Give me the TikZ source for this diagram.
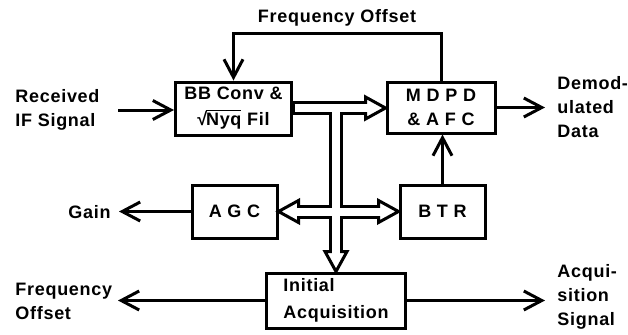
\documentclass[tikz,border=0pt]{standalone}
\usepackage{fontspec}
\setmainfont{Liberation Sans}[LetterSpace=4]
\usepackage{tikz}
\usetikzlibrary{positioning,arrows.meta}

\tikzset{
  txt/.style={font=\bfseries\fontsize{9}{12}\selectfont},
  blk/.style={draw, txt, line width=1.5pt, inner sep=0pt, align=center},
  sig/.style={line width=1.5pt, -{Straight Barb[length=9pt,width=9.5pt,line width=1.5pt]}},
  lbl/.style={txt, inner sep=0pt, align=left, anchor=west},
  busout/.style={line width=7pt},
  busin/.style={line width=4pt, white},
  bushead/.style={draw, fill=white, line width=1.5pt, line join=miter}
}

\begin{document}
\begin{tikzpicture}[x=0.5pt, y=-0.5pt]
				\useasboundingbox (0,0) rectangle (628,334);
				\node[blk, minimum width=58pt, minimum height=26.5pt] (bb) at (233.5,108.5) {BB Conv \&\\[1pt]\char"221A\kern-0.6pt$\overline{\mbox{Nyq}}$ Fil};
				\node[blk, minimum width=54pt, minimum height=25.5pt] (mdpd) at (441,107.5) {M D P D\\\& A F C};
				\node[blk, minimum width=42.5pt, minimum height=26.5pt] (agc) at (234.5,211.5) {A G C};
				\node[blk, minimum width=42.5pt, minimum height=26.5pt] (btr) at (442.5,211.5) {B T R};
				\node[blk, minimum width=69.5pt, minimum height=27.5pt, align=left] (ia) at (336,300.5) {Initial\\[1.5pt]Acquisition};
				\node[lbl] (recv) at (15,110) {Received\\IF Signal};
				\node[lbl] (gain) at (68,212) {Gain};
				\node[lbl] (fo) at (15,301) {Frequency\\Offset};
				\node[lbl] (demod) at (557,107) {Demod-\\ulated\\Data};
				\node[lbl] (acq) at (557,297) {Acqui-\\sition\\Signal};
				\node[txt, inner sep=0pt] (fbl) at (337,18) {Frequency Offset};
				\coordinate (fb) at (337,33);
				\coordinate (rin) at (118,110);
				\coordinate (gout) at (119,211.5);
				\coordinate (foout) at (118,300.5);
				\coordinate (dout) at (545,107.5);
				\coordinate (aout) at (545,300.5);
				\coordinate (j1) at (336,108);
				\coordinate (j2) at (336,211.5);
				\draw[sig] (rin) -- (bb.west |- rin);
				\draw[sig] (mdpd.north) |- (fb) -| (bb.north);
				\draw[sig] (mdpd.east) -- (dout);
				\draw[sig] (btr.north) -- (btr.north |- mdpd.south);
				\draw[sig] (agc.west) -- (gout);
				\draw[sig] (ia.west) -- (foout);
				\draw[sig] (ia.east) -- (aout);
				\draw[busout] (bb.east |- j1) -- ([xshift=-10pt]mdpd.west |- j1);
				\draw[busout] (j1) -- ([yshift=10pt]ia.north);
				\draw[busout] ([xshift=10pt]agc.east |- j2) -- ([xshift=-10pt]btr.west |- j2);
				\draw[bushead] (mdpd.west |- j1) -- ++(-20,-11) -- ++(0,22) -- cycle;
				\draw[bushead] (ia.north) -- ++(-11,-20) -- ++(22,0) -- cycle;
				\draw[bushead] (agc.east |- j2) -- ++(20,-11) -- ++(0,22) -- cycle;
				\draw[bushead] (btr.west |- j2) -- ++(-20,-11) -- ++(0,22) -- cycle;
				\draw[busin] ([xshift=0.8pt]bb.east |- j1) -- ([xshift=-8.5pt]mdpd.west |- j1);
				\draw[busin] (j1) -- ([yshift=8.5pt]ia.north);
				\draw[busin] ([xshift=8.5pt]agc.east |- j2) -- ([xshift=-8.5pt]btr.west |- j2);
			\end{tikzpicture}
\end{document}
